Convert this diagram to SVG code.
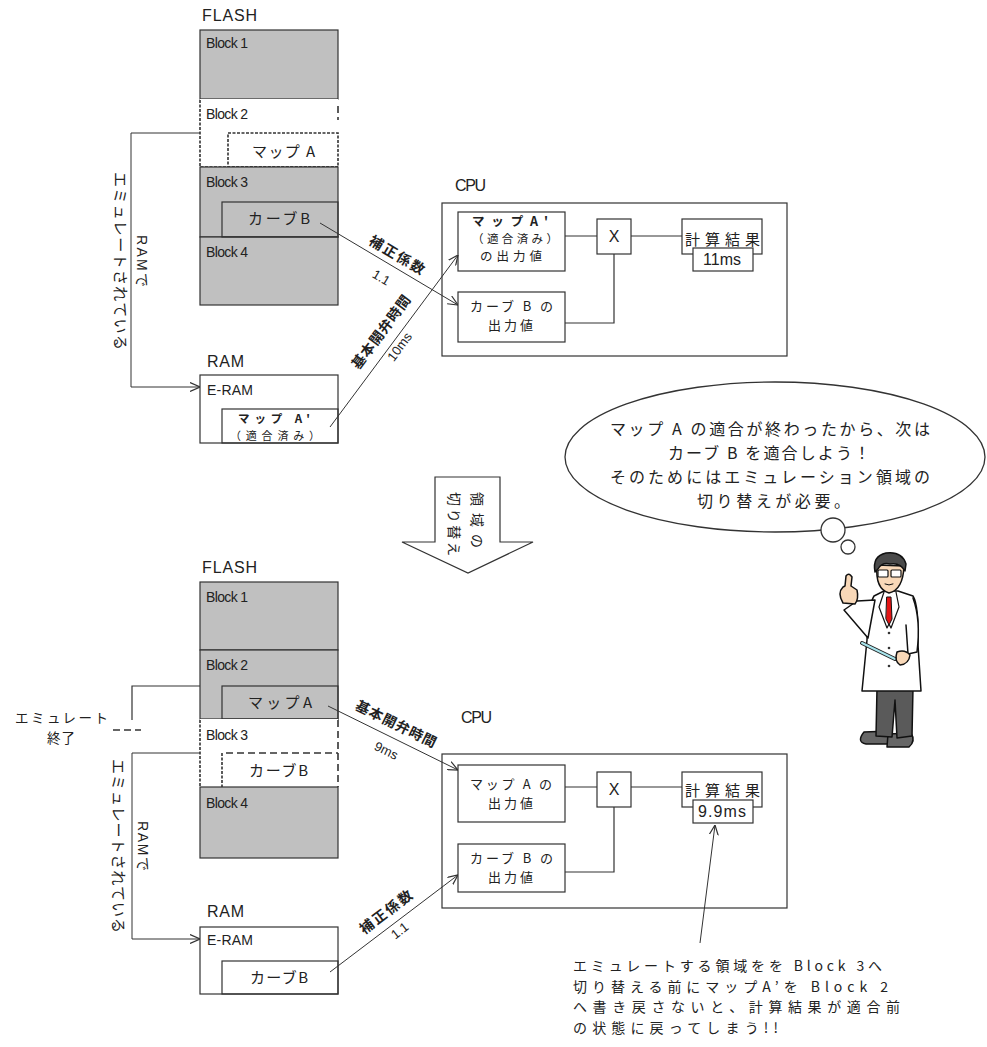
<svg xmlns="http://www.w3.org/2000/svg" width="987" height="1047" viewBox="0 0 987 1047">
<style>
  text { font-family: "Liberation Sans", "Noto Sans CJK JP", sans-serif; fill: #222; }
  .jp { font-family: "Noto Sans CJK JP", "Liberation Sans", sans-serif; }
  .lbl { font-size: 14px; }
  .ttl { font-size: 16px; }
  .j15 { font-size: 15px; }
  .j14 { font-size: 14px; }
  .j13 { font-size: 13px; }
  .big { font-size: 16px; }
  .note { font-size: 14px; }
  .num { font-size: 16px; }
  .b { font-weight: bold; }
  .box { fill: #fff; stroke: #333; stroke-width: 1.2; }
  .gray { fill: #c0c0c0; stroke: #333; stroke-width: 1.2; }
  .ln { fill: none; stroke: #333; stroke-width: 1.2; }
  .arr { fill: none; stroke: #333; stroke-width: 1; marker-end: url(#ah); }
  .dot { fill: none; stroke: #333; stroke-width: 1.6; stroke-dasharray: 3 1.5; }
  .dash { fill: none; stroke: #333; stroke-width: 1.6; stroke-dasharray: 7 4; }
</style>
<defs>
  <marker id="ah" viewBox="0 0 10 10" refX="10" refY="5" markerWidth="10" markerHeight="10" markerUnits="userSpaceOnUse" orient="auto">
    <path d="M0,0.5 L10,5 L0,9.5" fill="none" stroke="#333" stroke-width="1.2"/>
  </marker>
</defs>
<rect width="987" height="1047" fill="#fff"/>

<!-- ===== upper state: Block 2 emulated ===== -->
<g id="flash-top">
  <text class="ttl" x="202" y="21" textLength="55">FLASH</text>
  <rect class="gray" x="200" y="30" width="138" height="69"/>
  <text class="lbl" x="206" y="48" textLength="42">Block 1</text>
  <rect x="200" y="99" width="138" height="68" fill="#fff"/>
  <path class="dot" d="M200,100 V167 H338"/>
  <path class="dash" d="M338,106 V120"/>
  <text class="lbl" x="206" y="119" textLength="42">Block 2</text>
  <rect class="dot" x="228" y="133" width="110" height="34"/>
  <text class="jp j15" x="252" y="157" textLength="63">マップ A</text>
  <rect class="gray" x="200" y="167" width="138" height="70"/>
  <rect class="gray" x="200" y="237" width="138" height="68"/>
  <rect class="ln" x="222" y="202" width="116" height="35"/>
  <text class="lbl" x="206" y="187" textLength="42">Block 3</text>
  <text class="jp j15" x="248" y="224" textLength="62">カーブB</text>
  <text class="lbl" x="206" y="257" textLength="42">Block 4</text>
</g>

<g id="ram-top">
  <text class="ttl" x="207" y="367" textLength="37">RAM</text>
  <rect class="box" x="200" y="375" width="138" height="68"/>
  <text class="lbl" x="207" y="395" textLength="46">E-RAM</text>
  <rect class="ln" x="222" y="409" width="116" height="34"/>
  <text class="jp">
    <tspan class="b" font-size="11.5" x="238" y="423" textLength="72">マップ A'</tspan>
    <tspan font-size="11" x="230" y="439.5" textLength="90">（適合済み）</tspan>
  </text>
</g>

<g id="cpu-top">
  <text class="ttl" x="455" y="191" textLength="31">CPU</text>
  <rect class="box" x="442" y="203" width="345" height="153"/>
  <g id="mapA-out-top">
    <rect class="box" x="458" y="212" width="107" height="59"/>
    <text class="jp">
      <tspan class="b" font-size="12.5" x="472" y="226" textLength="76">マップA'</tspan>
      <tspan font-size="11.5" x="472" y="243" textLength="86">（適合済み）</tspan>
      <tspan font-size="12.5" x="480" y="261" textLength="62">の出力値</tspan>
    </text>
  </g>
  <g id="curveB-out-top">
    <rect class="box" x="458" y="292" width="107" height="50"/>
    <text class="jp j13">
      <tspan x="470" y="311" textLength="83">カーブ B の</tspan>
      <tspan x="488" y="330" textLength="45">出力値</tspan>
    </text>
  </g>
  <g id="mul-top">
    <rect class="box" x="597" y="219" width="34" height="35"/>
    <text class="num" x="614" y="242" text-anchor="middle">X</text>
  </g>
  <g id="result-top">
    <rect class="box" x="682" y="219" width="80" height="35"/>
    <text class="jp j15" x="685" y="245" textLength="75">計算結果</text>
    <rect class="box" x="693" y="248" width="60" height="23"/>
    <text class="num" x="703" y="265" textLength="38">11ms</text>
  </g>
</g>

<!-- ===== lower state: Block 3 emulated ===== -->
<g id="flash-bottom">
  <text class="ttl" x="202" y="573" textLength="55">FLASH</text>
  <rect class="gray" x="200" y="582" width="138" height="68"/>
  <text class="lbl" x="206" y="602" textLength="42">Block 1</text>
  <rect class="gray" x="200" y="650" width="138" height="69"/>
  <text class="lbl" x="206" y="670" textLength="42">Block 2</text>
  <rect class="ln" x="222" y="686" width="116" height="33"/>
  <text class="jp j15" x="248" y="708" textLength="64">マップA</text>
  <rect x="200" y="719" width="138" height="68" fill="#fff"/>
  <path class="dot" d="M200,720 V787"/>
  <path class="dash" d="M338,720 V787"/>
  <path class="dash" d="M226,753 H338"/>
  <path class="dot" d="M222,753 V787"/>
  <text class="lbl" x="206" y="740" textLength="42">Block 3</text>
  <text class="jp j15" x="249" y="776" textLength="59">カーブB</text>
  <rect class="gray" x="200" y="787" width="138" height="71"/>
  <text class="lbl" x="206" y="808" textLength="42">Block 4</text>
</g>

<g id="ram-bottom">
  <text class="ttl" x="207" y="917" textLength="37">RAM</text>
  <rect class="box" x="200" y="927" width="138" height="67"/>
  <text class="lbl" x="207" y="945" textLength="46">E-RAM</text>
  <rect class="ln" x="222" y="961" width="116" height="33"/>
  <text class="jp j15" x="250" y="983" textLength="58">カーブB</text>
</g>

<g id="cpu-bottom">
  <text class="ttl" x="461" y="723" textLength="31">CPU</text>
  <rect class="box" x="442" y="754" width="345" height="154"/>
  <g id="mapA-out-bottom">
    <rect class="box" x="458" y="765" width="107" height="57"/>
    <text class="jp j13">
      <tspan x="470" y="789" textLength="82">マップ A の</tspan>
      <tspan x="488" y="808" textLength="45">出力値</tspan>
    </text>
  </g>
  <g id="curveB-out-bottom">
    <rect class="box" x="458" y="844" width="107" height="48"/>
    <text class="jp j13">
      <tspan x="470" y="863" textLength="83">カーブ B の</tspan>
      <tspan x="488" y="882" textLength="45">出力値</tspan>
    </text>
  </g>
  <g id="mul-bottom">
    <rect class="box" x="597" y="772" width="34" height="35"/>
    <text class="num" x="614" y="795" text-anchor="middle">X</text>
  </g>
  <g id="result-bottom">
    <rect class="box" x="682" y="772" width="80" height="35"/>
    <text class="jp j15" x="685" y="796" textLength="75">計算結果</text>
    <rect class="box" x="693" y="800" width="60" height="23"/>
    <text class="num" x="698" y="817" textLength="48">9.9ms</text>
  </g>
</g>

<g id="emu-end">
  <text class="jp" font-size="13.5">
    <tspan x="15" y="723" textLength="93">エミュレート</tspan>
    <tspan x="47" y="743" textLength="28">終了</tspan>
  </text>
</g>

<!-- ===== connectors ===== -->
<g id="connectors">
  <!-- internal CPU wiring -->
  <path class="ln" d="M565,236 H597 M631,236 H682 M565,323 H614 V254"/>
  <path class="ln" d="M565,787 H597 M631,787 H682 M565,872 H614 V807"/>
  <!-- emulation mapping lines -->
  <path class="arr" stroke-width="1.2" d="M200,133 H131 V387 H200"/>
  <path class="arr" stroke-width="1.2" d="M200,753 H132 V939 H200"/>
  <path class="ln" d="M200,686 H132 V720"/>
  <path class="dash" stroke-width="2" stroke-dasharray="5 2" d="M113,730 H141"/>
  <!-- data flows -->
  <path class="arr" d="M320,223 L458,305"/>
  <path class="arr" d="M330,427 L458,255"/>
  <path class="arr" d="M328,706 L458,770"/>
  <path class="arr" d="M330,972 L458,875"/>
  <path class="arr" d="M700,943 L715,825"/>
</g>

<!-- flow labels -->
<g id="flow-labels" class="jp">
  <text class="j14 b" transform="translate(397,255) rotate(30.7)" text-anchor="middle" y="5" textLength="62">補正係数</text>
  <text class="j13" transform="translate(381,278) rotate(30.7)" text-anchor="middle" y="4">1.1</text>
  <text class="j14 b" transform="translate(381,332) rotate(-53.3)" text-anchor="middle" y="5" textLength="88">基本開弁時間</text>
  <text class="j13" transform="translate(400,347) rotate(-53.3)" text-anchor="middle" y="4">10ms</text>
  <text class="j14 b" transform="translate(396,724) rotate(26.2)" text-anchor="middle" y="5" textLength="88">基本開弁時間</text>
  <text class="j13" transform="translate(386,751) rotate(26.2)" text-anchor="middle" y="4">9ms</text>
  <text class="j14 b" transform="translate(386,912) rotate(-37.2)" text-anchor="middle" y="5" textLength="62">補正係数</text>
  <text class="j13" transform="translate(400,931) rotate(-37.2)" text-anchor="middle" y="4">1.1</text>
</g>

<!-- side notes on the emulation lines -->
<g id="emu-note-top" class="jp">
  <text class="j14" transform="translate(142,261) rotate(90)" text-anchor="middle" y="5" textLength="52">RAMで</text>
  <text class="j15" transform="translate(120,261) rotate(90)" text-anchor="middle" y="5" textLength="178">エミュレートされている</text>
</g>
<g id="emu-note-bottom" class="jp">
  <text class="j14" transform="translate(143,846) rotate(90)" text-anchor="middle" y="5" textLength="50">RAMで</text>
  <text class="j15" transform="translate(118,846) rotate(90)" text-anchor="middle" y="5" textLength="174">エミュレートされている</text>
</g>

<!-- switch arrow -->
<g id="switch-arrow">
  <polygon points="435,477 500,477 500,542 533,542 468,573 402,542 435,542" fill="#fff" stroke="#333" stroke-width="1.2"/>
  <text class="jp j14" transform="translate(477,492) rotate(90)" y="5" textLength="56">領域の</text>
  <text class="jp j14" transform="translate(454,492) rotate(90)" y="5" textLength="64">切り替え</text>
</g>

<!-- thought bubble -->
<g id="bubble">
  <ellipse cx="775" cy="457" rx="210" ry="75" fill="#fff" stroke="#333" stroke-width="1.3"/>
  <circle cx="833" cy="530" r="12" fill="#fff" stroke="#333" stroke-width="1.3"/>
  <circle cx="848" cy="547" r="7" fill="#fff" stroke="#333" stroke-width="1.3"/>
  <text class="jp big">
    <tspan x="610" y="435" textLength="320">マップ A の適合が終わったから、次は</tspan>
    <tspan x="668" y="459" textLength="202">カーブ B を適合しよう！</tspan>
    <tspan x="610" y="483" textLength="320">そのためにはエミュレーション領域の</tspan>
    <tspan x="697" y="507" textLength="153">切り替えが必要。</tspan>
  </text>
</g>

<!-- warning note -->
<g id="note">
  <text class="jp note">
    <tspan x="573" y="971" textLength="309">エミュレートする領域をを Block 3へ</tspan>
    <tspan x="573" y="991.5" textLength="315">切り替える前にマップA’を Block 2</tspan>
    <tspan x="573" y="1012" textLength="327">へ書き戻さないと、計算結果が適合前</tspan>
    <tspan x="573" y="1032.5" textLength="205">の状態に戻ってしまう!!</tspan>
  </text>
</g>

<!-- engineer figure -->
<g id="doctor" stroke="#111" stroke-width="1.5" stroke-linejoin="round" stroke-linecap="round">
  <path d="M864,732 Q856,742 866,744 L889,744 L890,731 Z" fill="#666"/>
  <path d="M888,734 L887,747 L909,747 Q916,741 911,733 Z" fill="#666"/>
  <path d="M877,688 L876,736 L892,737 L895,700 L897,738 L912,736 L913,688 Z" fill="#5a5a5a"/>
  <path d="M874,596 Q868,606 867,640 L862,691 L921,691 L918,645 Q919,606 913,596 L898,591 L884,591 Z" fill="#fff"/>
  <path d="M884,592 L879,607 L887,628 L889,624 L891,628 L899,607 L896,592" fill="#fff" stroke-width="1.2"/>
  <path d="M887,597 L891,597 L892,619 L889,625 L886,619 Z" fill="#e41515" stroke-width="1"/>
  <circle cx="889" cy="633" r="1.3" fill="#333" stroke="none"/>
  <circle cx="889" cy="648" r="1.3" fill="#333" stroke="none"/>
  <circle cx="889" cy="666" r="1.3" fill="#333" stroke="none"/>
  <path d="M913,598 Q921,620 917,652 L908,654 L906,625" fill="#fff"/>
  <path d="M875,600 L868,638 L844,610 L857,601 Z" fill="#fff"/>
  <path d="M843,603 Q837,593 843,587 L845,586 L846,576 Q849,572 852,577 L851,586 L857,590 Q859,599 855,604 Z" fill="#f8d8b8"/>
  <path d="M862,643 L895,659" stroke="#222" stroke-width="4"/>
  <path d="M862,643 L895,659" stroke="#a8e4ec" stroke-width="2"/>
  <path d="M897,652 Q905,649 910,655 Q909,664 900,665 Q894,661 897,652 Z" fill="#f8d8b8"/>
  <path d="M877,565 Q875,589 889,593 Q903,590 904,566 Z" fill="#f8d8b8"/>
  <path d="M875,572 Q872,556 886,553 Q902,551 906,564 L905,571 Q900,562 890,564 Q882,562 878,569 Z" fill="#4a4a4a"/>
  <rect x="878" y="570" width="10" height="7" rx="1" fill="#fff" stroke-width="1.2"/>
  <rect x="891" y="570" width="10" height="7" rx="1" fill="#fff" stroke-width="1.2"/>
  <path d="M885,584 Q889,586 893,584" fill="none" stroke-width="1"/>
</g>
</svg>
